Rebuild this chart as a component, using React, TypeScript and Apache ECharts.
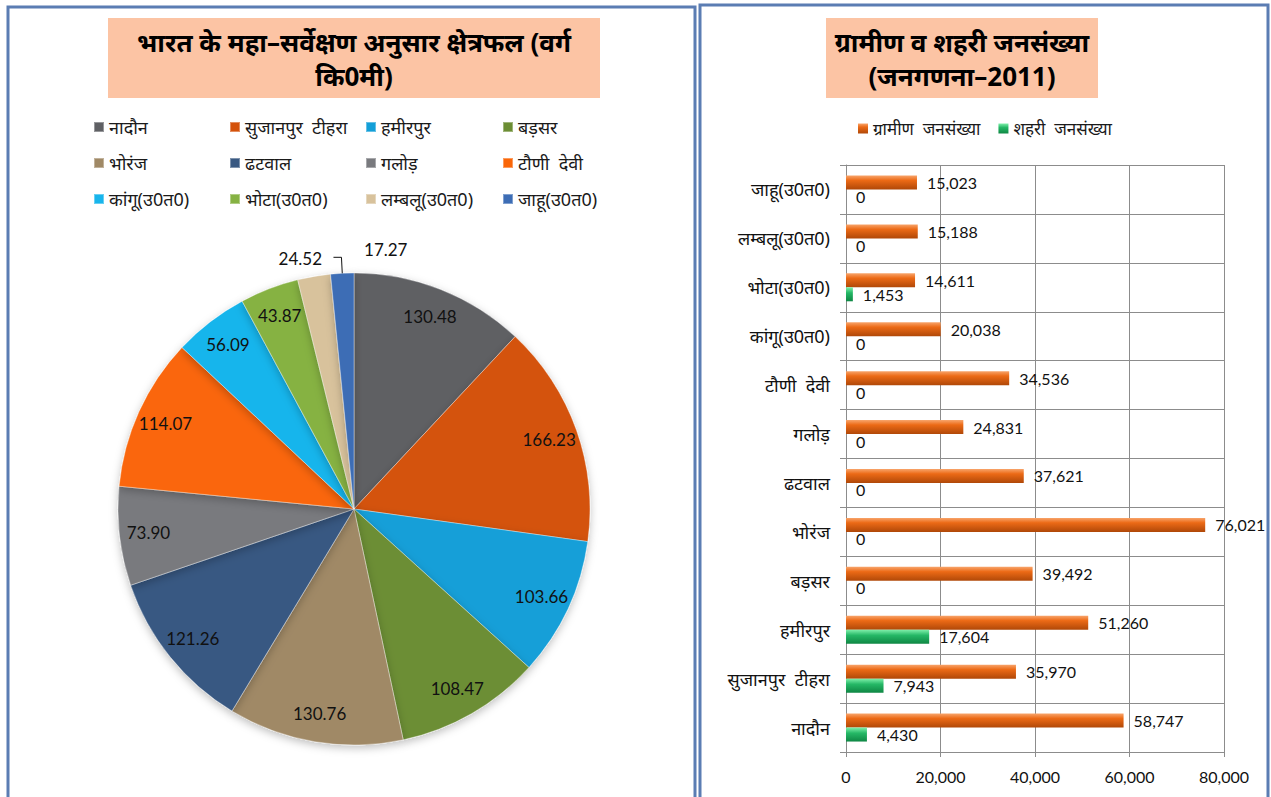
import React, { useEffect, useRef } from "react";
import * as echarts from "echarts";

const FONT = "'Noto Sans', 'Noto Sans Devanagari', Lato, sans-serif";
const NUMFONT = "Lato, 'Noto Sans', sans-serif";

const regions = [
  "नादौन",
  "सुजानपुर  टीहरा",
  "हमीरपुर",
  "बड़सर",
  "भोरंज",
  "ढटवाल",
  "गलोड़",
  "टौणी  देवी",
  "कांगू(उ0त0)",
  "भोटा(उ0त0)",
  "लम्बलू(उ0त0)",
  "जाहू(उ0त0)",
];

const areaSqKm = [130.48, 166.23, 103.66, 108.47, 130.76, 121.26, 73.9, 114.07, 56.09, 43.87, 24.52, 17.27];

const pieColors = [
  "#5f6064",
  "#d4520b",
  "#139fd8",
  "#6c8e34",
  "#a08966",
  "#395982",
  "#797a7e",
  "#fa6608",
  "#18b5ec",
  "#86b243",
  "#d8c29c",
  "#3d6db5",
];

const ruralPop = [58747, 35970, 51260, 39492, 76021, 37621, 24831, 34536, 20038, 14611, 15188, 15023];
const urbanPop = [4430, 7943, 17604, 0, 0, 0, 0, 0, 0, 1453, 0, 0];

const xTicks = { min: 0, max: 80000, interval: 20000 };

const legendCols = [88, 224, 360, 497];
const legendRows = [113, 149, 185];

const leftTitleLines = ["भारत के महा–सर्वेक्षण अनुसार क्षेत्रफल (वर्ग", "कि0मी)"];
const rightTitleLines = ["ग्रामीण व शहरी जनसंख्या", "(जनगणना–2011)"];

const fmt = (v: number) => v.toLocaleString("en-US");

export default function App() {
  const ref = useRef<HTMLDivElement>(null);

  useEffect(() => {
    if (!ref.current) return;
    const chart = echarts.init(ref.current, null, { renderer: "svg" });

    const pieLegends = regions.map((name, i) => ({
      data: [name],
      left: legendCols[i % 4],
      top: legendRows[Math.floor(i / 4)],
      icon: "rect",
      itemWidth: 10,
      itemHeight: 10,
      textStyle: { fontSize: 18, color: "#1a1a1a", fontFamily: FONT },
    }));

    const titleStyle = { fontSize: 26, fontWeight: "bold", lineHeight: 30, color: "#000", fontFamily: FONT };
    const titles = [
      { text: leftTitleLines[0], left: 354, top: 27 },
      { text: leftTitleLines[1], left: 354, top: 61 },
      { text: rightTitleLines[0], left: 962, top: 27 },
      { text: rightTitleLines[1], left: 962, top: 61 },
    ].map((t) => ({ ...t, textAlign: "center", padding: 0, textStyle: titleStyle }));

    const option: any = {
      animation: false,
      backgroundColor: "#ffffff",
      textStyle: { fontFamily: FONT },
      title: titles,
      graphic: [
        { type: "rect", z: -10, shape: { x: 8, y: 7, width: 687, height: 810 }, style: { fill: "none", stroke: "#5b7db3", lineWidth: 3 } },
        { type: "rect", z: -10, shape: { x: 700, y: 5, width: 568, height: 810 }, style: { fill: "none", stroke: "#5b7db3", lineWidth: 3 } },
        { type: "rect", z: -5, shape: { x: 108, y: 18, width: 492, height: 80 }, style: { fill: "#fcc4a4" } },
        { type: "rect", z: -5, shape: { x: 826, y: 18, width: 272, height: 80 }, style: { fill: "#fcc4a4" } },
      ],
      legend: [
        ...pieLegends,
        {
          data: ["ग्रामीण  जनसंख्या", "शहरी  जनसंख्या"],
          left: 853,
          top: 115,
          icon: "rect",
          itemWidth: 10,
          itemHeight: 10,
          itemGap: 18,
          textStyle: { fontSize: 17, color: "#1a1a1a", fontFamily: FONT },
        },
      ],
      grid: { left: 846, right: 47, top: 165, bottom: 45, containLabel: false },
      xAxis: {
        type: "value",
        min: xTicks.min,
        max: xTicks.max,
        interval: xTicks.interval,
        axisLine: { show: true, lineStyle: { color: "#8c8c8c" } },
        axisTick: { show: true, length: 5, lineStyle: { color: "#8c8c8c" } },
        splitLine: { show: true, lineStyle: { color: "#8c8c8c", width: 1 } },
        axisLabel: { fontSize: 16, color: "#111", fontFamily: NUMFONT, margin: 16, formatter: (v: number) => fmt(v) },
      },
      yAxis: {
        type: "category",
        data: regions,
        axisLine: { show: true, lineStyle: { color: "#8c8c8c" } },
        axisTick: { show: true, length: 6, lineStyle: { color: "#8c8c8c" } },
        splitLine: { show: true, lineStyle: { color: "#8c8c8c", width: 1 } },
        axisLabel: { fontSize: 18, color: "#111", fontFamily: FONT, margin: 16 },
      },
      series: [
        {
          type: "pie",
          name: "area",
          center: [354, 509],
          radius: 236,
          startAngle: 90,
          clockwise: true,
          label: { show: false },
          labelLine: { show: false },
          itemStyle: {
            borderColor: "rgba(255,255,255,0.35)",
            borderWidth: 1,
            shadowBlur: 8,
            shadowColor: "rgba(0,0,0,0.25)",
            shadowOffsetY: 3,
          },
          data: regions.map((name, i) => ({
            name,
            value: areaSqKm[i],
            itemStyle: { color: pieColors[i] },
          })),
        },
        {
          type: "pie",
          name: "areaLabels",
          center: [354, 509],
          radius: [172, 236],
          startAngle: 90,
          clockwise: true,
          silent: true,
          avoidLabelOverlap: false,
          z: 3,
          itemStyle: { color: "rgba(0,0,0,0)" },
          label: {
            show: true,
            position: "inside",
            fontSize: 17,
            color: "#111",
            fontFamily: NUMFONT,
            formatter: (p: any) => p.value.toFixed(2),
          },
          labelLayout: (p: any) =>
            p.dataIndex === 11 ? { dx: 77, dy: -8 } : p.dataIndex === 10 ? { dx: 14, dy: 0 } : {},
          data: regions.map((name, i) => {
            const small = i >= 10;
            return {
              name,
              value: areaSqKm[i],
              label: small ? { position: "outside", distanceToLabelLine: 3 } : undefined,
              labelLine: small
                ? i === 11
                  ? { show: true, length: 16, length2: 8, lineStyle: { color: "#111", width: 1 } }
                  : { show: false, length: 18, length2: 0 }
                : undefined,
            };
          }),
        },
        {
          type: "bar",
          name: "ग्रामीण  जनसंख्या",
          data: ruralPop,
          barWidth: 14,
          barGap: "0%",
          itemStyle: {
            color: new echarts.graphic.LinearGradient(0, 0, 0, 1, [
              { offset: 0, color: "#f8a56c" },
              { offset: 0.35, color: "#ec6a16" },
              { offset: 1, color: "#b04808" },
            ]),
          },
          label: {
            show: true,
            position: "right",
            distance: 10,
            fontSize: 16,
            color: "#111",
            fontFamily: NUMFONT,
            formatter: (p: any) => fmt(p.value),
          },
        },
        {
          type: "bar",
          name: "शहरी  जनसंख्या",
          data: urbanPop,
          barWidth: 14,
          barGap: "0%",
          itemStyle: {
            color: new echarts.graphic.LinearGradient(0, 0, 0, 1, [
              { offset: 0, color: "#80f0ab" },
              { offset: 0.4, color: "#25b866" },
              { offset: 1, color: "#0f8744" },
            ]),
          },
          label: {
            show: true,
            position: "right",
            distance: 10,
            fontSize: 16,
            color: "#111",
            fontFamily: NUMFONT,
            formatter: (p: any) => fmt(p.value),
          },
        },
      ],
    };

    chart.setOption(option);
    return () => chart.dispose();
  }, []);

  return (
    <div
      ref={ref}
      style={{ position: "fixed", left: 0, top: 0, width: 1271, height: 797, background: "#fff" }}
    />
  );
}
